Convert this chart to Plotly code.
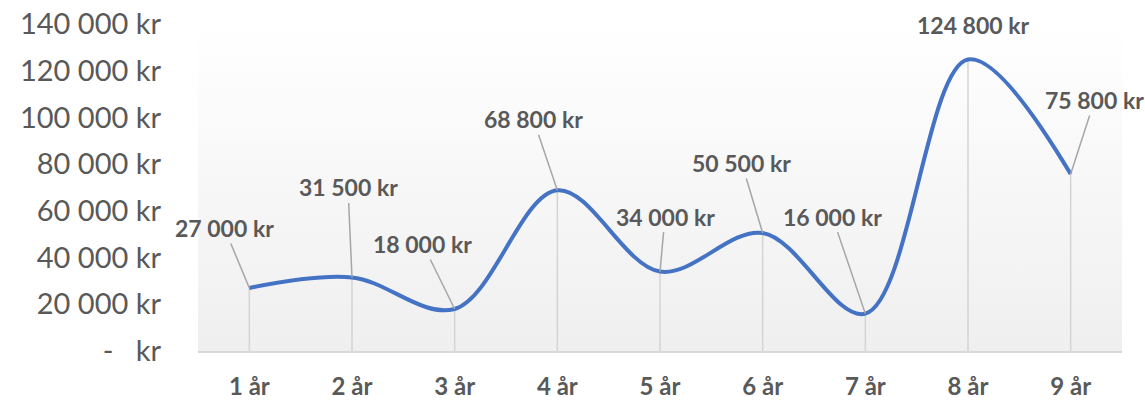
import plotly.graph_objects as go

categories = ["1 år", "2 år", "3 år", "4 år", "5 år", "6 år", "7 år", "8 år", "9 år"]
values = [27000, 31500, 18000, 68800, 34000, 50500, 16000, 124800, 75800]
y_tick_vals = [0, 20000, 40000, 60000, 80000, 100000, 120000, 140000]
y_tick_text = ["-   kr", "20 000 kr", "40 000 kr", "60 000 kr", "80 000 kr",
               "100 000 kr", "120 000 kr", "140 000 kr"]

# label offsets in pixels (style, not data)
label_dx = [-25, -4, -32, -24, 5, -21, -33, 5, 24]
label_dy = [-60, -90, -65, -71, -55, -70, -97, -35, -74]

xs = list(range(1, len(categories) + 1))
x0, x1 = 0.5, len(categories) + 0.5
ymax = 140000

def fmt(v):
    return f"{v:,}".replace(",", " ") + " kr"

fig = go.Figure()

# gradient plot background
fig.add_trace(go.Scatter(
    x=[x0, x1, x1, x0, x0], y=[0, 0, ymax, ymax, 0],
    mode="lines", line=dict(width=0), fill="toself",
    fillgradient=dict(type="vertical",
                      colorscale=[[0, "#efefef"], [1, "#ffffff"]]),
    hoverinfo="skip", showlegend=False))

# drop lines
fig.add_trace(go.Scatter(
    x=xs, y=values, mode="markers", marker=dict(size=1, opacity=0),
    error_y=dict(type="data", symmetric=False, array=[0] * len(values),
                 arrayminus=values, color="#d4d4d4", thickness=1.5, width=0),
    hoverinfo="skip", showlegend=False))

# main smooth line
fig.add_trace(go.Scatter(
    x=xs, y=values, mode="lines",
    line=dict(color="#4472C4", width=4, shape="spline", smoothing=1.0),
    showlegend=False))

for i, (x, v) in enumerate(zip(xs, values)):
    fig.add_annotation(
        x=x, y=v, text=f"<b>{fmt(v)}</b>", showarrow=True,
        ax=label_dx[i], ay=label_dy[i], axref="pixel", ayref="pixel",
        arrowhead=0, arrowwidth=1.5,
        arrowcolor="rgba(0,0,0,0)" if i == 7 else "#a6a6a6",
        font=dict(family="Lato", size=23, color="#595959"))

fig.update_layout(
    width=1145, height=401,
    margin=dict(l=198, r=23, t=24, b=50, autoexpand=False),
    paper_bgcolor="white", plot_bgcolor="white",
    font=dict(family="Lato", color="#595959"),
    xaxis=dict(range=[x0, x1], tickvals=xs, ticktext=[f"<b>{c}</b>" for c in categories],
               showgrid=False, zeroline=False, showline=True, linecolor="#d9d9d9",
               linewidth=1.5, ticks="", tickfont=dict(size=24, color="#595959"),
               ticklabelstandoff=13, automargin=False),
    yaxis=dict(range=[0, ymax], tickvals=y_tick_vals, ticktext=y_tick_text,
               showgrid=False, zeroline=False, showline=False, ticks="",
               tickfont=dict(size=29, color="#595959"), ticklabelstandoff=36,
               automargin=False),
)

fig.write_html("out.html", config={"displayModeBar": False},
               post_script="document.body.style.margin='0';document.body.style.overflow='hidden';")
